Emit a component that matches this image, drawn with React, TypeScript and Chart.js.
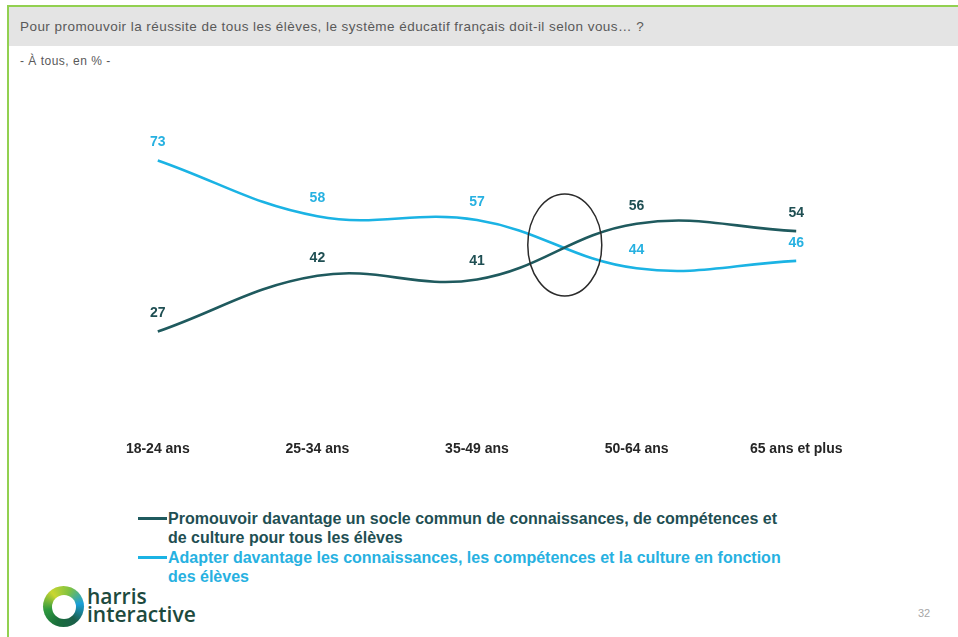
import React, { useEffect, useRef } from "react";
import { Chart, registerables } from "chart.js";

Chart.register(...registerables);

const categories = ["18-24 ans", "25-34 ans", "35-49 ans", "50-64 ans", "65 ans et plus"];
const socleCommun = [27, 42, 41, 56, 54];
const adapter = [73, 58, 57, 44, 46];
const seriesNames = [
  ["Promouvoir davantage un socle commun de connaissances, de compétences et", "de culture pour tous les élèves"],
  ["Adapter davantage les connaissances, les compétences et la culture en fonction", "des élèves"],
];
const titleText = "Pour promouvoir la réussite de tous les élèves, le système éducatif français doit-il selon vous… ?";
const subtitleText = "- À tous, en % -";
const pageNumber = "32";
// highlighted crossing zone (category index, value)
const crossing = { x: 2.55, y: 50.3 };

const DARK = "#1f5a5e";
const DARK_LABEL = "#1f4f53";
const CYAN = "#1bb3e4";
const CYAN_LABEL = "#27b1e1";
const FONT = "'Liberation Sans', Arial, sans-serif";

const labelsPlugin = {
  id: "valueLabels",
  afterDatasetsDraw(chart: any) {
    const ctx = chart.ctx;
    ctx.save();
    ctx.font = `bold 14px ${FONT}`;
    ctx.textAlign = "center";
    ctx.textBaseline = "middle";
    chart.data.datasets.forEach((ds: any, di: number) => {
      const meta = chart.getDatasetMeta(di);
      ctx.fillStyle = ds.labelColor;
      meta.data.forEach((pt: any, i: number) => {
        ctx.fillText(String(ds.data[i]), pt.x, pt.y - 18);
      });
    });
    ctx.restore();
  },
};

const ellipsePlugin = {
  id: "crossEllipse",
  afterDatasetsDraw(chart: any) {
    const ctx = chart.ctx;
    const cx = chart.scales.x.getPixelForValue(crossing.x);
    const cy = chart.scales.y.getPixelForValue(crossing.y);
    ctx.save();
    ctx.beginPath();
    ctx.ellipse(cx, cy, 37, 51, 0, 0, Math.PI * 2);
    ctx.strokeStyle = "#2b2b2b";
    ctx.lineWidth = 1.5;
    ctx.stroke();
    ctx.restore();
  },
};

function ChartCanvas() {
  const ref = useRef<HTMLCanvasElement | null>(null);
  useEffect(() => {
    if (!ref.current) return;
    const chart = new Chart(ref.current, {
      type: "line",
      data: {
        labels: categories,
        datasets: [
          {
            label: seriesNames[0].join(" "),
            data: socleCommun,
            borderColor: DARK,
            borderWidth: 2.6,
            pointRadius: 0,
            tension: 0.4,
            fill: false,
            labelColor: DARK_LABEL,
          } as any,
          {
            label: seriesNames[1].join(" "),
            data: adapter,
            borderColor: CYAN,
            borderWidth: 2.6,
            pointRadius: 0,
            tension: 0.4,
            fill: false,
            labelColor: CYAN_LABEL,
          } as any,
        ],
      },
      options: {
        animation: false,
        responsive: false,
        maintainAspectRatio: false,
        layout: { padding: { left: 78, right: 82, top: 60, bottom: 24.2 } },
        plugins: { legend: { display: false }, tooltip: { enabled: false }, title: { display: false } },
        scales: {
          x: {
            offset: true,
            grid: { display: false, drawTicks: false },
            border: { display: false },
            ticks: { color: "#262626", font: { family: FONT, size: 14, weight: "bold" }, padding: 9 },
          },
          y: { display: false, min: 0, max: 100 },
        },
      },
      plugins: [labelsPlugin, ellipsePlugin],
    });
    return () => chart.destroy();
  }, []);
  return <canvas ref={ref} width={958} height={491} style={{ position: "absolute", left: 0, top: 0, width: 958, height: 491 }} />;
}

export default function App() {
  const legendColors = [DARK, CYAN];
  const legendText = [DARK_LABEL, CYAN_LABEL];
  return (
    <div style={{ position: "fixed", left: 0, top: 0, width: 958, height: 637, background: "#fff", overflow: "hidden", fontFamily: FONT }}>
      <div style={{ position: "absolute", left: 7, top: 5, width: 960, height: 640, borderLeft: "2px solid #92d050", borderTop: "2px solid #92d050" }} />
      <div style={{ position: "absolute", left: 9, top: 7, width: 949, height: 39, background: "#e4e4e4" }} />
      <div style={{ position: "absolute", left: 20, top: 7, height: 39, lineHeight: "39px", fontSize: 13.5, letterSpacing: 0.45, color: "#595959", whiteSpace: "nowrap" }}>{titleText}</div>
      <div style={{ position: "absolute", left: 20, top: 54, lineHeight: "14px", fontSize: 12, letterSpacing: 0.5, color: "#595959", whiteSpace: "nowrap" }}>{subtitleText}</div>
      <ChartCanvas />
      <div style={{ position: "absolute", left: 138, top: 508.5 }}>
        {seriesNames.map((lines, i) => (
          <div key={i} style={{ position: "relative", paddingLeft: 30, marginBottom: 1 }}>
            <div style={{ position: "absolute", left: 0, top: 8, width: 29, height: 3, background: legendColors[i] }} />
            {lines.map((t, j) => (
              <div key={j} style={{ fontSize: 16, fontWeight: "bold", lineHeight: "19px", color: legendText[i], whiteSpace: "nowrap" }}>{t}</div>
            ))}
          </div>
        ))}
      </div>
      <div style={{ position: "absolute", left: 43, top: 586, width: 41, height: 41, borderRadius: "50%", background: "conic-gradient(from 200deg, #1a6e3c, #2f9a3e, #c9d630, #7fc241, #1a9fd8, #1b5f4a, #1a6e3c)" }}>
        <div style={{ position: "absolute", left: 8.5, top: 8.5, width: 24, height: 24, borderRadius: "50%", background: "#fff" }} />
      </div>
      <div style={{ position: "absolute", left: 87, top: 587, fontSize: 21, fontWeight: 600, lineHeight: "18px", color: "#1d4a3e", fontFamily: "'Open Sans', Lato, sans-serif" }}>
        <div>harris</div>
        <div>interactive</div>
      </div>
      <div style={{ position: "absolute", left: 918, top: 607, fontSize: 11, color: "#a6a6a6" }}>{pageNumber}</div>
    </div>
  );
}
